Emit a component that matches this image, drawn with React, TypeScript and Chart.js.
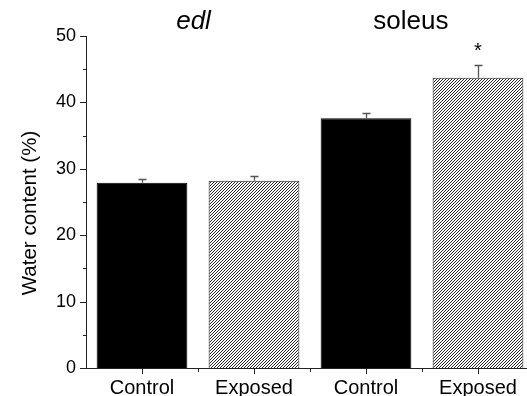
import React, { useEffect, useRef } from 'react';
import { Chart, registerables } from 'chart.js';

Chart.register(...registerables);

const categories = ['Control', 'Exposed', 'Control', 'Exposed'];
const waterContent = [27.9, 28.2, 37.6, 43.7];
const errorUp = [0.6, 0.7, 0.75, 1.9];
const fillKinds = ['solid', 'hatch', 'solid', 'hatch'];
const groupLabels = ['edl', 'soleus'];
const groupItalic = [true, false];
const groupPositions = [0.46, 2.4];
const groupLabelValue = 51.1;
const starCategories = [3];
const starValues = [46.9];
const yMin = 0;
const yMax = 50;
const yMajorStep = 10;
const yMinorStep = 5;
const yTitle = 'Water content (%)';

const FONT = "'Liberation Sans', Arial, Helvetica, sans-serif";

function makeHatch(): CanvasPattern | string {
  const P = 3;
  const tile = document.createElement('canvas');
  tile.width = P;
  tile.height = P;
  const t = tile.getContext('2d');
  if (!t) return '#888';
  t.fillStyle = '#fff';
  t.fillRect(0, 0, P, P);
  t.strokeStyle = '#000';
  t.lineWidth = 0.85;
  t.beginPath();
  for (let k = -1; k <= 1; k++) {
    t.moveTo(-1 + k * P, P + 1);
    t.lineTo(P + 1 + k * P, -1);
  }
  t.stroke();
  const main = document.createElement('canvas').getContext('2d');
  const pat = main ? main.createPattern(tile, 'repeat') : null;
  return pat || '#888';
}

const overlayPlugin = {
  id: 'overlay',
  afterDraw(chart: any) {
    const { ctx, scales } = chart;
    const x = scales.x;
    const y = scales.y;
    const area = chart.chartArea;
    ctx.save();

    // error bars (upward only)
    const meta = chart.getDatasetMeta(0);
    meta.data.forEach((bar: any, i: number) => {
      const top = y.getPixelForValue(waterContent[i] + errorUp[i]);
      const cx = Math.round(bar.x) + 0.5;
      ctx.strokeStyle = '#555';
      ctx.lineWidth = 1.3;
      ctx.beginPath();
      ctx.moveTo(cx, bar.y);
      ctx.lineTo(cx, top);
      ctx.moveTo(cx - 4, Math.round(top) + 0.5);
      ctx.lineTo(cx + 4, Math.round(top) + 0.5);
      ctx.stroke();
    });

    // y-axis ticks (outward)
    ctx.strokeStyle = '#222';
    ctx.lineWidth = 1;
    ctx.beginPath();
    for (let v = yMin; v <= yMax; v += yMinorStep) {
      const py = Math.round(y.getPixelForValue(v)) + 0.5;
      const major = v % yMajorStep === 0;
      ctx.moveTo(area.left - (major ? 6 : 3), py);
      ctx.lineTo(area.left, py);
    }
    // x-axis ticks (outward)
    for (let i = 0; i < categories.length; i++) {
      const px = Math.round(x.getPixelForValue(i)) + 0.5;
      ctx.moveTo(px, area.bottom);
      ctx.lineTo(px, area.bottom + 6);
      const bx = Math.round(x.getPixelForValue(i + 0.5)) + 0.5;
      ctx.moveTo(bx, area.bottom);
      ctx.lineTo(bx, area.bottom + 4);
    }
    ctx.stroke();

    // group labels
    ctx.fillStyle = '#000';
    ctx.textAlign = 'center';
    ctx.textBaseline = 'alphabetic';
    groupLabels.forEach((lab, i) => {
      ctx.font = (groupItalic[i] ? 'italic ' : '') + '26px ' + FONT;
      ctx.fillText(lab, x.getPixelForValue(groupPositions[i]), y.getPixelForValue(groupLabelValue));
    });

    // significance star
    ctx.font = '20px ' + FONT;
    starCategories.forEach((c, i) => {
      ctx.fillText('*', x.getPixelForValue(c), y.getPixelForValue(starValues[i]));
    });

    // y title
    ctx.save();
    ctx.font = '20.5px ' + FONT;
    ctx.translate(36, (area.top + area.bottom) / 2 + 11);
    ctx.rotate(-Math.PI / 2);
    ctx.textAlign = 'center';
    ctx.textBaseline = 'alphabetic';
    ctx.fillText(yTitle, 0, 0);
    ctx.restore();

    ctx.restore();
  },
};

export default function App() {
  const ref = useRef<HTMLCanvasElement | null>(null);

  useEffect(() => {
    if (!ref.current) return;
    const hatch = makeHatch();
    const colors = fillKinds.map((k) => (k === 'solid' ? '#000' : hatch));
    const borders = fillKinds.map((k) => (k === 'solid' ? '#000' : '#222'));
    const chart = new Chart(ref.current, {
      type: 'bar',
      data: {
        labels: categories,
        datasets: [
          {
            data: waterContent,
            backgroundColor: colors as any,
            borderColor: borders,
            borderWidth: 1,
            barPercentage: 0.81,
            categoryPercentage: 1,
          },
        ],
      },
      options: {
        responsive: false,
        animation: false,
        devicePixelRatio: 1,
        layout: { padding: { left: 0, top: 36, right: 6, bottom: 0 } },
        plugins: {
          legend: { display: false },
          tooltip: { enabled: false },
          title: { display: false },
        },
        scales: {
          x: {
            type: 'category',
            offset: true,
            grid: { display: false, drawTicks: false },
            border: { display: true, color: '#222', width: 1 },
            ticks: {
              color: '#000',
              font: { family: FONT, size: 20 },
              padding: 8,
              maxRotation: 0,
              autoSkip: false,
            },
            afterFit: (s: any) => {
              s.height = 28;
            },
          },
          y: {
            min: yMin,
            max: yMax,
            grid: { display: false, drawTicks: false },
            border: { display: true, color: '#222', width: 1 },
            ticks: {
              stepSize: yMinorStep,
              color: '#000',
              font: { family: FONT, size: 18 },
              padding: 10,
              callback: (v: any) => (Number(v) % yMajorStep === 0 ? String(v) : ''),
            },
            afterFit: (s: any) => {
              s.width = 86;
            },
          },
        },
      },
      plugins: [overlayPlugin],
    });
    return () => chart.destroy();
  }, []);

  return (
    <div
      style={{
        position: 'fixed',
        left: 0,
        top: 0,
        width: 527,
        height: 396,
        overflow: 'hidden',
        background: '#fff',
      }}
    >
      <canvas ref={ref} width={540} height={396} style={{ display: 'block', width: 540, height: 396 }} />
    </div>
  );
}
